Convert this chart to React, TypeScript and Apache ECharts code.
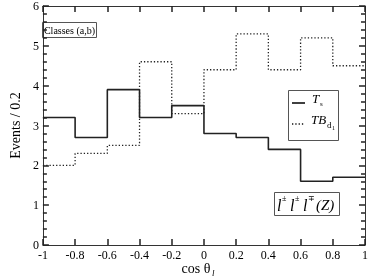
import React, { useEffect, useRef } from "react";
import * as echarts from "echarts";

const binEdges = [-1, -0.8, -0.6, -0.4, -0.2, 0, 0.2, 0.4, 0.6, 0.8, 1];
const tsValues = [3.2, 2.7, 3.9, 3.2, 3.5, 2.8, 2.7, 2.4, 1.6, 1.7];
const tbValues = [2.0, 2.3, 2.5, 4.6, 3.3, 4.4, 5.3, 4.4, 5.2, 4.5];

const FONT = "Liberation Serif";

function stepData(values: number[]) {
  const d: number[][] = values.map((v, i) => [binEdges[i], v]);
  d.push([binEdges[binEdges.length - 1], values[values.length - 1]]);
  return d;
}

export default function App() {
  const ref = useRef<HTMLDivElement>(null);
  useEffect(() => {
    if (!ref.current) return;
    const chart = echarts.init(ref.current, undefined, { renderer: "svg" });
    const fmt = (v: number) => String(Number(v.toFixed(1)));
    chart.setOption({
      animation: false,
      grid: { left: 25, right: 6, top: 5, bottom: 33 },
      xAxis: [
        {
          type: "value",
          min: -1,
          max: 1,
          interval: 0.2,
          position: "bottom",
          axisLine: { show: true, onZero: false, lineStyle: { color: "#333" } },
          axisTick: { show: true, inside: true, length: 6, lineStyle: { color: "#222", width: 1.5 } },
          axisLabel: { formatter: fmt, color: "#000", fontFamily: FONT, fontSize: 12, margin: 4 },
          splitLine: { show: false },
        },
        {
          type: "value",
          min: -1,
          max: 1,
          interval: 0.2,
          position: "top",
          axisLine: { show: true, onZero: false, lineStyle: { color: "#333" } },
          axisTick: { show: true, inside: true, length: 6, lineStyle: { color: "#222", width: 1.5 } },
          axisLabel: { show: false },
          splitLine: { show: false },
        },
      ],
      yAxis: [
        {
          type: "value",
          min: 0,
          max: 6,
          interval: 1,
          position: "left",
          axisLine: { show: true, onZero: false, lineStyle: { color: "#333" } },
          axisTick: { show: true, inside: true, length: 6, lineStyle: { color: "#222", width: 1.5 } },
          minorTick: { show: true, splitNumber: 5, length: 4, lineStyle: { color: "#222", width: 1.5 } },
          axisLabel: { color: "#000", fontFamily: FONT, fontSize: 12, margin: 4 },
          splitLine: { show: false },
          name: "Events / 0.2",
          nameLocation: "middle",
          nameGap: 14,
          nameTextStyle: { fontFamily: FONT, fontSize: 14, color: "#000" },
        },
        {
          type: "value",
          min: 0,
          max: 6,
          interval: 1,
          position: "right",
          axisLine: { show: true, onZero: false, lineStyle: { color: "#333" } },
          axisTick: { show: true, inside: true, length: 6, lineStyle: { color: "#222", width: 1.5 } },
          minorTick: { show: true, splitNumber: 5, length: 4, lineStyle: { color: "#222", width: 1.5 } },
          axisLabel: { show: false },
          splitLine: { show: false },
        },
      ],
      series: [
        {
          name: "Ts",
          type: "line",
          step: "end",
          data: stepData(tsValues),
          symbol: "none",
          lineStyle: { color: "#222", width: 1.6, type: "solid" },
          xAxisIndex: 0,
          yAxisIndex: 0,
        },
        {
          name: "TBd1",
          type: "line",
          step: "end",
          data: stepData(tbValues),
          symbol: "none",
          lineStyle: { color: "#222", width: 1.3, type: [1.3, 2] },
          xAxisIndex: 0,
          yAxisIndex: 0,
        },
      ],
      graphic: [
        {
          type: "rect",
          shape: { x: 42.5, y: 22.5, width: 54, height: 15 },
          style: { fill: "#fff", stroke: "#555", lineWidth: 1 },
        },
        {
          type: "text",
          x: 69.5,
          y: 30,
          style: { text: "Classes (a,b)", fontFamily: FONT, fontSize: 10, fill: "#000", align: "center", verticalAlign: "middle" },
        },
        {
          type: "rect",
          shape: { x: 288.5, y: 90.5, width: 50, height: 50 },
          style: { fill: "#fff", stroke: "#555", lineWidth: 1 },
        },
        {
          type: "line",
          shape: { x1: 292, y1: 103, x2: 305, y2: 103 },
          style: { stroke: "#111", lineWidth: 1.6 },
        },
        {
          type: "line",
          shape: { x1: 292, y1: 124, x2: 305, y2: 124 },
          style: { stroke: "#111", lineWidth: 1.3, lineDash: [1.3, 2] },
        },
        {
          type: "text",
          x: 312,
          y: 98,
          style: { text: "T", fontFamily: FONT, fontStyle: "italic", fontSize: 13, fill: "#000", verticalAlign: "middle" },
        },
        {
          type: "text",
          x: 320,
          y: 104,
          style: { text: "s", fontFamily: FONT, fontSize: 7, fill: "#000", verticalAlign: "middle" },
        },
        {
          type: "text",
          x: 311,
          y: 119,
          style: { text: "TB", fontFamily: FONT, fontStyle: "italic", fontSize: 13, fill: "#000", verticalAlign: "middle" },
        },
        {
          type: "text",
          x: 327,
          y: 125,
          style: { text: "d", fontFamily: FONT, fontSize: 9, fill: "#000", verticalAlign: "middle" },
        },
        {
          type: "text",
          x: 332,
          y: 128,
          style: { text: "1", fontFamily: FONT, fontSize: 6, fill: "#000", verticalAlign: "middle" },
        },
        {
          type: "rect",
          shape: { x: 274.5, y: 192.5, width: 65, height: 23 },
          style: { fill: "#fff", stroke: "#555", lineWidth: 1 },
        },
        { type: "text", x: 277, y: 205, style: { text: "l", fontFamily: FONT, fontStyle: "italic", fontSize: 16, fill: "#000", verticalAlign: "middle" } },
        { type: "text", x: 282, y: 198, style: { text: "±", fontFamily: FONT, fontSize: 8, fill: "#000", verticalAlign: "middle" } },
        { type: "text", x: 290, y: 205, style: { text: "l", fontFamily: FONT, fontStyle: "italic", fontSize: 16, fill: "#000", verticalAlign: "middle" } },
        { type: "text", x: 295, y: 198, style: { text: "±", fontFamily: FONT, fontSize: 8, fill: "#000", verticalAlign: "middle" } },
        { type: "text", x: 303, y: 205, style: { text: "l", fontFamily: FONT, fontStyle: "italic", fontSize: 16, fill: "#000", verticalAlign: "middle" } },
        { type: "text", x: 308, y: 198, style: { text: "∓", fontFamily: FONT, fontSize: 8, fill: "#000", verticalAlign: "middle" } },
        { type: "text", x: 316, y: 205, style: { text: "(Z)", fontFamily: FONT, fontStyle: "italic", fontSize: 15, fill: "#000", verticalAlign: "middle" } },
        {
          type: "text",
          x: 196,
          y: 268,
          style: { text: "cos θ", fontFamily: FONT, fontSize: 14, fill: "#000", align: "center", verticalAlign: "middle" },
        },
        {
          type: "text",
          x: 212,
          y: 273,
          style: { text: "l", fontFamily: FONT, fontStyle: "italic", fontSize: 9, fill: "#000", verticalAlign: "middle" },
        },
      ],
    });
    return () => chart.dispose();
  }, []);
  return <div ref={ref} style={{ position: "fixed", left: 0, top: 0, width: 371, height: 278 }} />;
}
